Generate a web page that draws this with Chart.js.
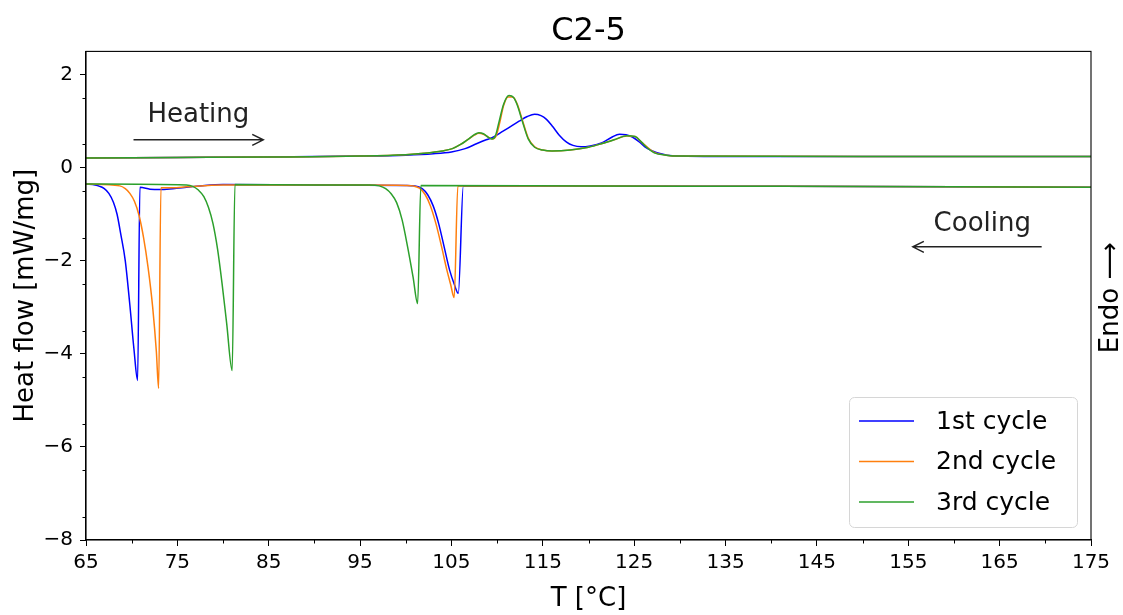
<!DOCTYPE html>
<html lang="en">
<head>
<meta charset="UTF-8">
<title>C2-5</title>
<script src="https://cdn.jsdelivr.net/npm/chart.js"></script>
<style>
  html, body { margin: 0; padding: 0; background: #fff; }
  #wrap { width: 1123px; height: 615px; }
</style>
</head>
<body>
<div id="wrap"><canvas id="dscChart" width="1123" height="615"></canvas></div>
<script>
// axis ticks
const xTicks = [65, 75, 85, 95, 105, 115, 125, 135, 145, 155, 165, 175];
const yTicks = [-8, -6, -4, -2, 0, 2];

const cycleLabels = ['1st cycle', '2nd cycle', '3rd cycle'];
const cycleColors = ['#0000ff', '#ff7f0e', '#2ca02c'];

// heating runs (T in °C, heat flow in mW/mg)
const heat1T = [65, 75, 85, 95, 100, 103, 105, 106.5, 107.8, 108.8, 109.5, 110.6, 111.5, 112.4, 113.3, 114.1, 114.8, 115.4, 116.1, 116.8, 117.6, 118.3, 119.2, 120.2, 121.5, 122.5, 123.4, 124.1, 124.8, 125.6, 126.3, 127.0, 127.7, 128.6, 129.8, 135, 150, 175];
const heat1Q = [0.21, 0.22, 0.23, 0.25, 0.27, 0.30, 0.34, 0.41, 0.52, 0.60, 0.65, 0.78, 0.89, 1.00, 1.10, 1.15, 1.12, 1.04, 0.88, 0.70, 0.55, 0.48, 0.45, 0.47, 0.54, 0.65, 0.72, 0.71, 0.66, 0.55, 0.43, 0.36, 0.31, 0.27, 0.25, 0.24, 0.24, 0.24];

const heat2T = [65, 75, 85, 95, 100, 102, 104, 105.1, 106, 106.9, 107.5, 108, 108.5, 109, 109.5, 109.9, 110.3, 110.7, 111.2, 111.7, 112.2, 112.8, 113.4, 114.1, 115, 116, 118, 120, 121.5, 122.8, 124.2, 125.1, 125.8, 126.4, 127.2, 128.5, 130, 150, 175];
const heat2Q = [0.21, 0.22, 0.23, 0.25, 0.28, 0.31, 0.36, 0.41, 0.50, 0.62, 0.70, 0.74, 0.72, 0.66, 0.62, 0.69, 0.98, 1.33, 1.52, 1.52, 1.37, 1.00, 0.64, 0.45, 0.38, 0.36, 0.38, 0.44, 0.52, 0.60, 0.68, 0.67, 0.55, 0.45, 0.33, 0.27, 0.25, 0.24, 0.24];

const heat3T = [65, 75, 85, 95, 100, 102, 104, 105.1, 106, 106.9, 107.5, 108, 108.5, 109, 109.4, 109.8, 110.2, 110.7, 111.3, 111.8, 112.2, 112.8, 113.4, 114.1, 115, 116, 118, 120, 121.5, 122.8, 124.2, 125.1, 125.8, 126.3, 127.2, 128.5, 130, 150, 175];
const heat3Q = [0.21, 0.22, 0.23, 0.25, 0.28, 0.31, 0.36, 0.41, 0.50, 0.62, 0.71, 0.75, 0.73, 0.66, 0.62, 0.68, 0.98, 1.36, 1.55, 1.51, 1.35, 0.97, 0.62, 0.44, 0.38, 0.36, 0.38, 0.44, 0.52, 0.60, 0.69, 0.67, 0.55, 0.45, 0.32, 0.27, 0.25, 0.24, 0.24];

// cooling runs, listed in rising T
const cool1T = [65, 66.0, 66.5, 67.0, 67.5, 68.0, 68.4, 68.8, 69.3, 69.8, 70.25, 70.65, 70.9, 72.0, 73.1, 74.5, 76, 78, 80, 90, 100, 101.0, 101.8, 102.4, 103.0, 103.6, 104.2, 104.8, 105.3, 105.75, 106.3, 120, 140, 160, 175];
const cool1Q = [-0.35, -0.37, -0.40, -0.45, -0.55, -0.74, -1.00, -1.42, -2.00, -2.95, -3.90, -4.57, -0.42, -0.46, -0.47, -0.45, -0.42, -0.38, -0.36, -0.37, -0.38, -0.39, -0.45, -0.58, -0.82, -1.20, -1.70, -2.20, -2.50, -2.70, -0.39, -0.39, -0.40, -0.41, -0.42];

const cool2T = [65, 68.7, 69.3, 69.8, 70.3, 70.8, 71.3, 71.8, 72.3, 72.7, 72.95, 73.2, 74.5, 76, 80, 95, 100, 100.8, 101.5, 102.1, 102.7, 103.3, 103.9, 104.5, 104.9, 105.3, 105.7, 120, 140, 160, 175];
const cool2Q = [-0.35, -0.39, -0.45, -0.55, -0.72, -1.02, -1.50, -2.15, -3.00, -3.95, -4.74, -0.43, -0.43, -0.41, -0.37, -0.37, -0.38, -0.39, -0.44, -0.57, -0.82, -1.20, -1.68, -2.20, -2.50, -2.79, -0.39, -0.39, -0.40, -0.41, -0.42];

const cool3T = [65, 76.0, 76.7, 77.3, 77.9, 78.4, 78.9, 79.4, 79.9, 80.4, 81.0, 81.3, 90, 96, 97.1, 97.8, 98.4, 99.0, 99.6, 100.2, 100.8, 101.3, 101.65, 120, 140, 160, 175];
const cool3Q = [-0.35, -0.37, -0.40, -0.48, -0.62, -0.85, -1.20, -1.75, -2.50, -3.35, -4.36, -0.36, -0.37, -0.37, -0.39, -0.45, -0.56, -0.75, -1.12, -1.70, -2.35, -2.92, -0.38, -0.39, -0.40, -0.41, -0.42];

const heatRuns = [[heat1T, heat1Q], [heat2T, heat2Q], [heat3T, heat3Q]];
const coolRuns = [[cool1T, cool1Q], [cool2T, cool2Q], [cool3T, cool3Q]];

const FONT = 'DejaVu Sans';

function toPoints(ts, qs) {
    return ts.map((t, i) => ({ x: t, y: qs[i] }));
}

function makeDataset(run, idx, part) {
    return {
        label: cycleLabels[idx],
        part: part,
        data: toPoints(run[0], run[1]),
        borderColor: cycleColors[idx],
        backgroundColor: cycleColors[idx],
        borderWidth: 1.5,
        pointRadius: 0,
        pointHoverRadius: 0,
        showLine: true,
        fill: false,
        cubicInterpolationMode: 'monotone',
        order: 2 - idx   // later cycles drawn on top
    };
}

const datasets = [];
heatRuns.forEach((r, i) => datasets.push(makeDataset(r, i, 'heat')));
coolRuns.forEach((r, i) => datasets.push(makeDataset(r, i, 'cool')));

// spines, minor ticks, annotations and legend
const decorPlugin = {
    id: 'decor',
    afterDraw(chart) {
        const { ctx, chartArea: a, scales: { x, y } } = chart;
        ctx.save();

        // box around the plot
        ctx.strokeStyle = '#000';
        ctx.lineWidth = 1.1;
        ctx.strokeRect(a.left, a.top, a.right - a.left, a.bottom - a.top);

        // minor ticks
        ctx.lineWidth = 1;
        ctx.beginPath();
        for (let v = 70; v < 175; v += 10) {
            const px = Math.round(x.getPixelForValue(v)) + 0.5;
            ctx.moveTo(px, a.bottom);
            ctx.lineTo(px, a.bottom + 3.5);
        }
        for (let v = -7.5; v <= 2; v += 1) {
            const py = Math.round(y.getPixelForValue(v)) + 0.5;
            ctx.moveTo(a.left, py);
            ctx.lineTo(a.left - 3.5, py);
        }
        ctx.stroke();

        // heating / cooling arrows
        ctx.strokeStyle = '#222';
        ctx.fillStyle = '#222';
        ctx.lineWidth = 1.5;
        const arrow = (x0, x1, yv) => {
            const px0 = x.getPixelForValue(x0), px1 = x.getPixelForValue(x1);
            const py = y.getPixelForValue(yv);
            const dir = Math.sign(px1 - px0);
            ctx.beginPath();
            ctx.moveTo(px0, py);
            ctx.lineTo(px1, py);
            ctx.moveTo(px1 - dir * 11, py - 5.5);
            ctx.lineTo(px1, py);
            ctx.lineTo(px1 - dir * 11, py + 5.5);
            ctx.stroke();
        };
        arrow(70.2, 84.4, 0.6);
        arrow(169.6, 155.5, -1.7);

        ctx.font = '26px "' + FONT + '"';
        ctx.textAlign = 'center';
        ctx.textBaseline = 'alphabetic';
        ctx.fillText('Heating', x.getPixelForValue(77.3), y.getPixelForValue(0.99));
        ctx.fillText('Cooling', x.getPixelForValue(163.1), y.getPixelForValue(-1.35));

        // endo direction label on the right
        ctx.save();
        ctx.translate(a.right + 20, (a.top + a.bottom) / 2 + 2);
        ctx.rotate(-Math.PI / 2);
        ctx.textBaseline = 'middle';
        ctx.fillStyle = '#000';
        ctx.fillText('Endo \u27F6', 0, 0);
        ctx.restore();

        // legend
        const lx = 849, ly = 397, lw = 228, lh = 130;
        ctx.beginPath();
        ctx.roundRect(lx + 0.5, ly + 0.5, lw, lh, 5);
        ctx.fillStyle = 'rgba(255,255,255,0.8)';
        ctx.fill();
        ctx.strokeStyle = '#d6d6d6';
        ctx.lineWidth = 1;
        ctx.stroke();
        ctx.font = '25px "' + FONT + '"';
        ctx.textAlign = 'left';
        ctx.textBaseline = 'middle';
        cycleLabels.forEach((lab, i) => {
            const yy = ly + 24 + i * 40.5;
            ctx.strokeStyle = cycleColors[i];
            ctx.lineWidth = 1.5;
            ctx.beginPath();
            ctx.moveTo(859, yy);
            ctx.lineTo(914, yy);
            ctx.stroke();
            ctx.fillStyle = '#000';
            ctx.fillText(lab, 936, yy + 1);
        });

        ctx.restore();
    }
};

function minusSign(v) {
    return String(v).replace('-', '\u2212');
}

new Chart(document.getElementById('dscChart'), {
    type: 'scatter',
    data: { datasets: datasets },
    options: {
        responsive: false,
        animation: false,
        events: [],
        layout: { padding: { left: 0, right: 32, top: 0, bottom: 0 } },
        plugins: {
            legend: { display: false },
            tooltip: { enabled: false },
            title: {
                display: true,
                text: 'C2-5',
                fullSize: false,
                color: '#000',
                font: { family: FONT, size: 32, weight: 'normal' },
                padding: { top: 12, bottom: 1 }
            }
        },
        scales: {
            x: {
                type: 'linear',
                min: 65,
                max: 175,
                afterBuildTicks: s => { s.ticks = xTicks.map(v => ({ value: v })); },
                afterFit: s => { s.height = 75; },
                ticks: {
                    color: '#000',
                    font: { family: FONT, size: 20 },
                    padding: 5,
                    maxRotation: 0,
                    autoSkip: false
                },
                grid: { display: true, drawOnChartArea: false, drawTicks: true, tickLength: 6, tickColor: '#000', color: '#000' },
                border: { display: true, color: '#000', width: 1.1 },
                title: {
                    display: true,
                    text: 'T [°C]',
                    color: '#000',
                    font: { family: FONT, size: 26 },
                    padding: { top: 0, bottom: 0 }
                }
            },
            y: {
                type: 'linear',
                min: -8,
                max: 2.5,
                afterBuildTicks: s => { s.ticks = yTicks.map(v => ({ value: v })); },
                afterFit: s => { s.width = 86; },
                ticks: {
                    color: '#000',
                    font: { family: FONT, size: 20 },
                    padding: 7,
                    callback: v => minusSign(v)
                },
                grid: { display: true, drawOnChartArea: false, drawTicks: true, tickLength: 6, tickColor: '#000', color: '#000' },
                border: { display: true, color: '#000', width: 1.1 },
                title: {
                    display: true,
                    text: 'Heat flow [mW/mg]',
                    color: '#000',
                    font: { family: FONT, size: 26 },
                    padding: { top: 11, bottom: 0 }
                }
            }
        }
    },
    plugins: [decorPlugin]
});
</script>
</body>
</html>
